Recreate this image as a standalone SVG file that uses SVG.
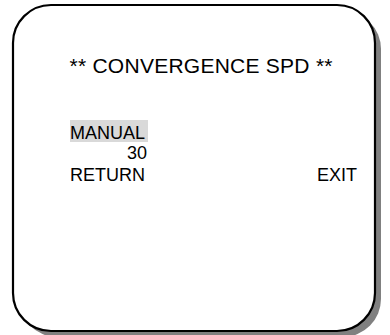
<svg xmlns="http://www.w3.org/2000/svg" width="390" height="335" viewBox="0 0 390 335">
<style>
text { font-family: "Liberation Sans", Arial, sans-serif; fill: #000; }
.t { font-size: 21px; }
.m { font-size: 18px; }
</style>
<g id="screen">
<rect x="19" y="11" width="362" height="326" rx="38" ry="38" fill="#808080"/>
<rect x="13" y="5" width="362" height="326" rx="38" ry="38" fill="#fff" stroke="#000" stroke-width="2.2"/>
</g>
<g id="title">
<text class="t" x="69.5" y="73" textLength="263" lengthAdjust="spacing">** CONVERGENCE SPD **</text>
</g>
<g id="menu">
<rect x="70" y="120" width="78" height="22" fill="#d9d9d9"/>
<text class="m" x="70" y="139">MANUAL</text>
<text class="m" x="147" y="159" text-anchor="end">30</text>
<text class="m" x="70" y="181">RETURN</text>
<text class="m" x="357" y="181" text-anchor="end">EXIT</text>
</g>
</svg>
